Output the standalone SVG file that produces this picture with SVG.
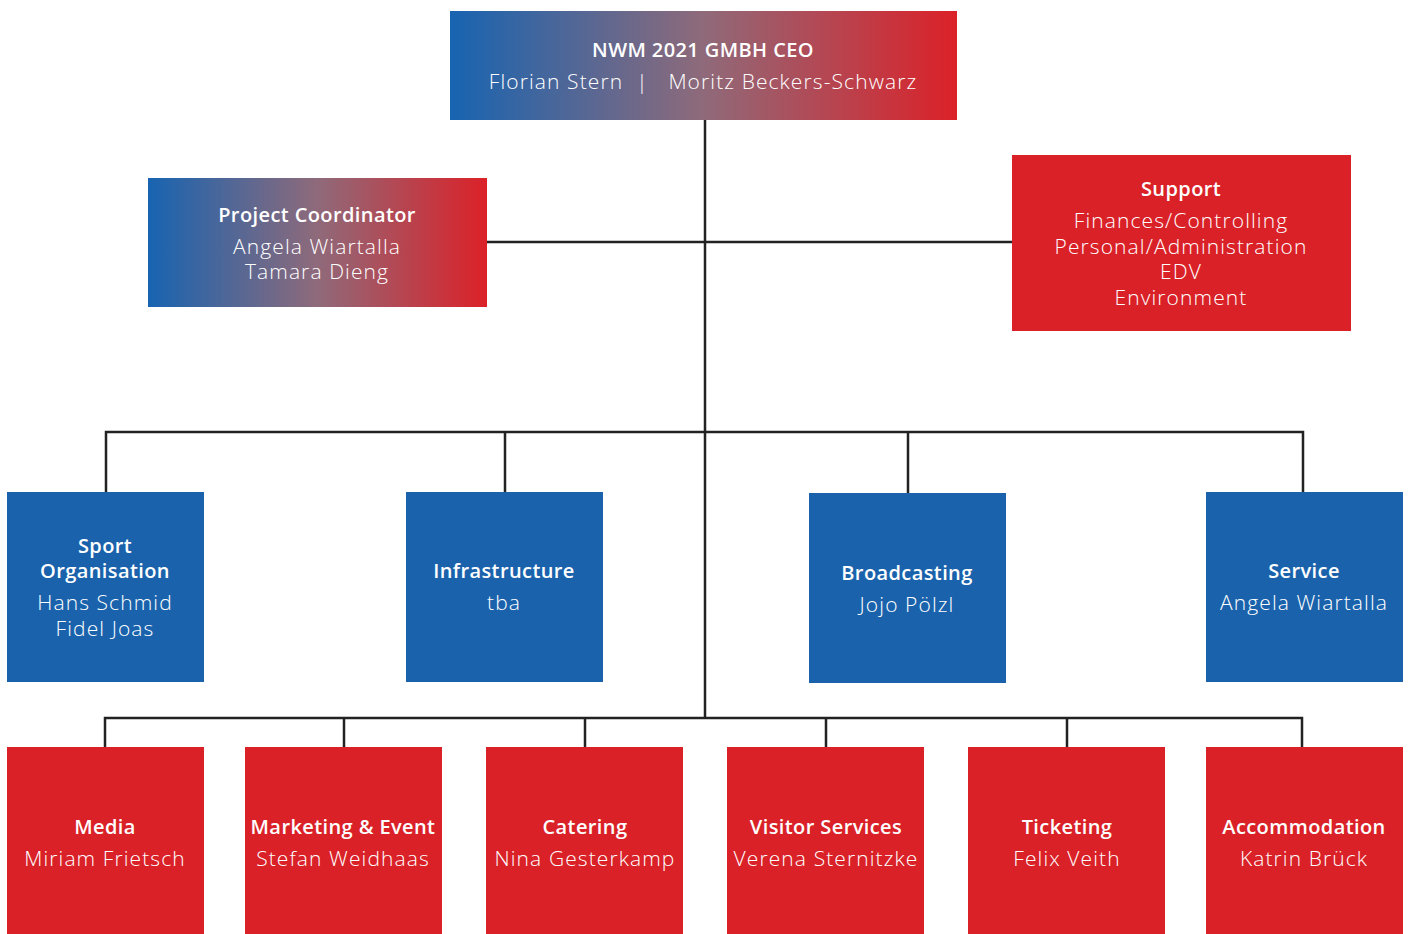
<svg xmlns="http://www.w3.org/2000/svg" width="1409" height="934" viewBox="0 0 1409 934">
<defs>
<linearGradient id="grad" x1="0" y1="0" x2="1" y2="0">
<stop offset="0" stop-color="#1764b1"/>
<stop offset="0.5" stop-color="#8f6a7a"/>
<stop offset="1" stop-color="#dc2128"/>
</linearGradient>
<style>
.blue{fill:#1a63ac}
.red{fill:#da2128}
.grad{fill:url(#grad)}
.t{font-family:"Open Sans","Liberation Sans",sans-serif;font-size:20px;font-weight:600;letter-spacing:0.4px;fill:#ffffff;text-anchor:middle}
.n{font-family:"Open Sans","Liberation Sans",sans-serif;font-size:21px;font-weight:300;letter-spacing:1.1px;fill:#ffffff;text-anchor:middle}
.c{fill:none;stroke:#222222;stroke-width:2.5}
</style>
</defs>
<rect width="1409" height="934" fill="#ffffff"/>
<g id="connectors">
<path class="c" d="M705 120V718"/>
<path class="c" d="M487 242H1012"/>
<path class="c" d="M106 492V432H1303V492M505 432V492M908 432V493"/>
<path class="c" d="M105 747V718H1302V747M344 718V747M585 718V747M826 718V747M1067 718V747"/>
</g>
<g id="ceo">
<rect class="grad" x="450" y="11" width="507" height="109"/>
<text class="t" x="703" y="57">NWM 2021 GMBH CEO</text>
<text class="n" x="703" y="89" xml:space="preserve">Florian Stern  |   Moritz Beckers-Schwarz</text>
</g>
<g id="project-coordinator">
<rect class="grad" x="148" y="178" width="339" height="129"/>
<text class="t" x="317" y="222">Project Coordinator</text>
<text class="n" x="317" y="254">Angela Wiartalla</text>
<text class="n" x="317" y="279">Tamara Dieng</text>
</g>
<g id="support">
<rect class="red" x="1012" y="155" width="339" height="176"/>
<text class="t" x="1181" y="196">Support</text>
<text class="n" x="1181" y="228">Finances/Controlling</text>
<text class="n" x="1181" y="254">Personal/Administration</text>
<text class="n" x="1181" y="279">EDV</text>
<text class="n" x="1181" y="305">Environment</text>
</g>
<g id="sport-organisation">
<rect class="blue" x="7" y="492" width="197" height="190"/>
<text class="t" x="105" y="553">Sport</text>
<text class="t" x="105" y="578">Organisation</text>
<text class="n" x="105" y="610">Hans Schmid</text>
<text class="n" x="105" y="636">Fidel Joas</text>
</g>
<g id="infrastructure">
<rect class="blue" x="406" y="492" width="197" height="190"/>
<text class="t" x="504" y="578">Infrastructure</text>
<text class="n" x="504" y="610">tba</text>
</g>
<g id="broadcasting">
<rect class="blue" x="809" y="493" width="197" height="190"/>
<text class="t" x="907" y="580">Broadcasting</text>
<text class="n" x="907" y="612">Jojo Pölzl</text>
</g>
<g id="service">
<rect class="blue" x="1206" y="492" width="197" height="190"/>
<text class="t" x="1304" y="578">Service</text>
<text class="n" x="1304" y="610">Angela Wiartalla</text>
</g>
<g id="media">
<rect class="red" x="7" y="747" width="197" height="187"/>
<text class="t" x="105" y="834">Media</text>
<text class="n" x="105" y="866">Miriam Frietsch</text>
</g>
<g id="marketing-event">
<rect class="red" x="245" y="747" width="197" height="187"/>
<text class="t" x="343" y="834">Marketing &amp; Event</text>
<text class="n" x="343" y="866">Stefan Weidhaas</text>
</g>
<g id="catering">
<rect class="red" x="486" y="747" width="197" height="187"/>
<text class="t" x="585" y="834">Catering</text>
<text class="n" x="585" y="866">Nina Gesterkamp</text>
</g>
<g id="visitor-services">
<rect class="red" x="727" y="747" width="197" height="187"/>
<text class="t" x="826" y="834">Visitor Services</text>
<text class="n" x="826" y="866">Verena Sternitzke</text>
</g>
<g id="ticketing">
<rect class="red" x="968" y="747" width="197" height="187"/>
<text class="t" x="1067" y="834">Ticketing</text>
<text class="n" x="1067" y="866">Felix Veith</text>
</g>
<g id="accommodation">
<rect class="red" x="1206" y="747" width="197" height="187"/>
<text class="t" x="1304" y="834">Accommodation</text>
<text class="n" x="1304" y="866">Katrin Brück</text>
</g>
</svg>
